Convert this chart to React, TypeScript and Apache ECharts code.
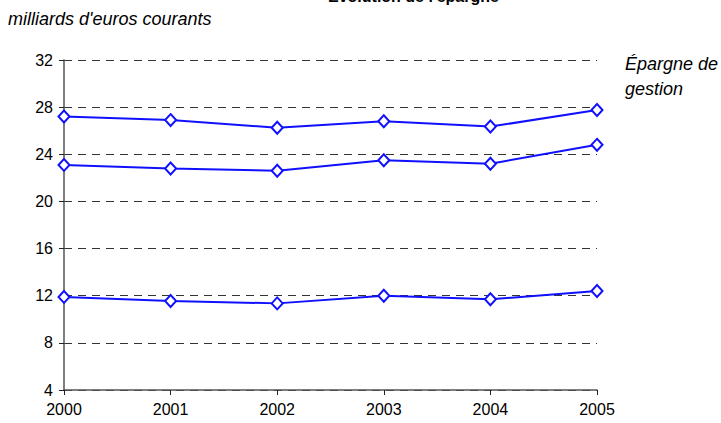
import React, { useEffect, useRef } from "react";
import * as echarts from "echarts";

const years = ["2000", "2001", "2002", "2003", "2004", "2005"];
const serieTop = [27.2, 26.9, 26.25, 26.8, 26.35, 27.75];
const serieMid = [23.1, 22.8, 22.6, 23.5, 23.2, 24.8];
const serieLow = [11.9, 11.55, 11.35, 12.0, 11.7, 12.4];
const yTicks = { min: 4, max: 32, interval: 4 };

export default function App() {
  const ref = useRef<HTMLDivElement>(null);
  useEffect(() => {
    if (!ref.current) return;
    const chart = echarts.init(ref.current, null, { renderer: "svg" });
    const mk = (data: number[]) => ({
      type: "line",
      data,
      symbol: "diamond",
      symbolSize: [11, 12],
      lineStyle: { color: "#1010ff", width: 2 },
      itemStyle: { color: "#ffffff", borderColor: "#1010ff", borderWidth: 2 },
      z: 5,
    });
    chart.setOption({
      animation: false,
      backgroundColor: "#ffffff",
      textStyle: { fontFamily: "Liberation Sans, Arial, sans-serif" },
      grid: { left: 64, right: 124, top: 60, bottom: 33, containLabel: false },
      xAxis: {
        type: "category",
        data: years,
        boundaryGap: false,
        axisLine: { lineStyle: { color: "#555555", width: 1.5 } },
        axisTick: { length: 5, lineStyle: { color: "#222222" } },
        axisLabel: { color: "#000", fontSize: 16, margin: 11 },
        splitLine: { show: false },
      },
      yAxis: {
        type: "value",
        min: yTicks.min,
        max: yTicks.max,
        interval: yTicks.interval,
        axisLine: { show: true, lineStyle: { color: "#555555", width: 1.5 } },
        axisTick: { show: true, length: 5, lineStyle: { color: "#222222" } },
        axisLabel: { color: "#000", fontSize: 16, margin: 11 },
        splitLine: { show: true, lineStyle: { color: "#333333", type: [8, 6], width: 1 } },
      },
      series: [mk(serieTop), mk(serieMid), mk(serieLow)],
      graphic: [
        {
          type: "text",
          left: 328,
          top: -12,
          style: { text: "Évolution de l'épargne", font: "bold 16px Liberation Sans, Arial, sans-serif", fill: "#000" },
        },
        {
          type: "text",
          left: 8,
          top: 10,
          style: { text: "milliards d'euros courants", font: "italic 18px Liberation Sans, Arial, sans-serif", fill: "#000" },
        },
        {
          type: "text",
          left: 625,
          top: 51,
          style: { text: "Épargne de\ngestion", font: "italic 18px Liberation Sans, Arial, sans-serif", lineHeight: 25, fill: "#000" },
        },
      ],
    });
    return () => chart.dispose();
  }, []);
  return <div ref={ref} style={{ width: 721, height: 423, position: "absolute", left: 0, top: 0 }} />;
}
